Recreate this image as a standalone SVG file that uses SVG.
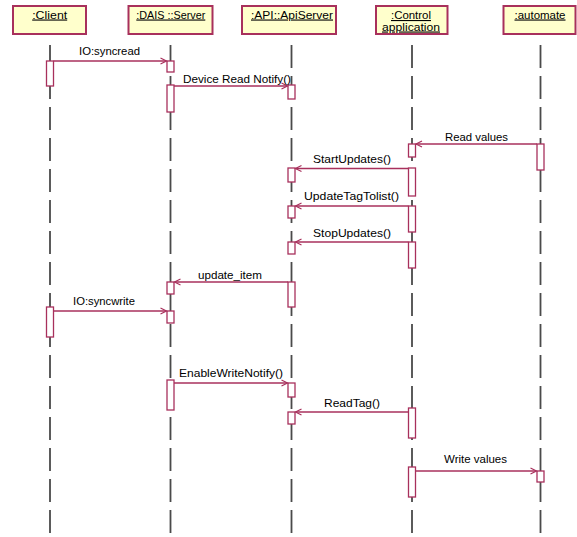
<svg xmlns="http://www.w3.org/2000/svg" width="577" height="537" viewBox="0 0 577 537">
<defs>
<marker id="arr" markerUnits="userSpaceOnUse" markerWidth="10" markerHeight="10" refX="7" refY="4" orient="auto">
<path d="M1,1 L7,4 L1,7" fill="none" stroke="#A8305C" stroke-width="1.2"/>
</marker>
</defs>
<style>
.box{fill:#FFFFCC;stroke:#A8305C;stroke-width:2}
.life{stroke:#4a4a4a;stroke-width:1.8;stroke-dasharray:23 8;fill:none}
.act{fill:#ffffff;stroke:#A8305C;stroke-width:1.3}
.msg{stroke:#A8305C;stroke-width:1.3;fill:none;marker-end:url(#arr)}
text{font-family:"Liberation Sans",Arial,sans-serif;font-size:11px;fill:#000}
.nm{text-anchor:middle;text-decoration:underline}
</style>
<rect width="577" height="537" fill="#ffffff"/>
<g id="lifelines">
<line class="life" x1="50" y1="45" x2="50" y2="533"/>
<line class="life" x1="170.5" y1="45" x2="170.5" y2="533"/>
<line class="life" x1="291.5" y1="45" x2="291.5" y2="533"/>
<line class="life" x1="412" y1="45" x2="412" y2="533"/>
<line class="life" x1="540.5" y1="45" x2="540.5" y2="533"/>
</g>
<g id="client">
<rect class="box" x="13" y="6" width="73" height="28"/>
<text class="nm" x="49.7" y="18.5" textLength="35" lengthAdjust="spacingAndGlyphs">:Client</text>
<rect class="act" x="46.5" y="61" width="7" height="25"/>
<rect class="act" x="46.5" y="307" width="7" height="30"/>
</g>
<g id="dais">
<rect class="box" x="128.5" y="6" width="84" height="28"/>
<text class="nm" x="170.8" y="18.5" textLength="69" lengthAdjust="spacingAndGlyphs">:DAIS ::Server</text>
<rect class="act" x="167" y="61" width="7" height="11"/>
<rect class="act" x="167" y="85" width="7" height="27"/>
<rect class="act" x="167" y="282" width="7" height="12"/>
<rect class="act" x="167" y="311" width="7" height="12"/>
<rect class="act" x="167" y="380" width="7" height="30"/>
</g>
<g id="apiserver">
<rect class="box" x="242" y="6" width="94" height="28"/>
<text class="nm" x="292" y="18.5" textLength="82" lengthAdjust="spacingAndGlyphs">:API::ApiServer</text>
<rect class="act" x="288" y="85" width="7" height="14"/>
<rect class="act" x="288" y="168" width="7" height="14"/>
<rect class="act" x="288" y="206" width="7" height="12"/>
<rect class="act" x="288" y="242" width="7" height="12"/>
<rect class="act" x="288" y="282" width="7" height="25"/>
<rect class="act" x="288" y="383" width="7" height="14"/>
<rect class="act" x="288" y="412" width="7" height="12"/>
</g>
<g id="control">
<rect class="box" x="376" y="6" width="71.5" height="28"/>
<text class="nm" x="411" y="19" textLength="40" lengthAdjust="spacingAndGlyphs">:Control</text>
<text class="nm" x="411" y="30.5" textLength="58" lengthAdjust="spacingAndGlyphs">application</text>
<rect class="act" x="408.5" y="144" width="7" height="13"/>
<rect class="act" x="408.5" y="168" width="7" height="28"/>
<rect class="act" x="408.5" y="206" width="7" height="26"/>
<rect class="act" x="408.5" y="242" width="7" height="26"/>
<rect class="act" x="408.5" y="408" width="7" height="30"/>
<rect class="act" x="408.5" y="467" width="7" height="30"/>
</g>
<g id="automate">
<rect class="box" x="503.5" y="6" width="72" height="28"/>
<text class="nm" x="540" y="18.5" textLength="51" lengthAdjust="spacingAndGlyphs">:automate</text>
<rect class="act" x="537" y="144" width="7" height="26"/>
<rect class="act" x="537" y="471" width="7" height="11"/>
</g>
<g id="connectors">
<line class="msg" x1="53.5" y1="61" x2="166.5" y2="61"/>
<text x="79" y="55" textLength="61" lengthAdjust="spacingAndGlyphs">IO:syncread</text>
<line class="msg" x1="174" y1="86" x2="287.5" y2="86"/>
<text x="183" y="83" textLength="108" lengthAdjust="spacingAndGlyphs">Device Read Notify()</text>
<line class="msg" x1="537" y1="144" x2="416" y2="144"/>
<text x="445" y="141" textLength="63" lengthAdjust="spacingAndGlyphs">Read values</text>
<line class="msg" x1="408.5" y1="168.5" x2="295.5" y2="168.5"/>
<text x="313" y="163" textLength="78" lengthAdjust="spacingAndGlyphs">StartUpdates()</text>
<line class="msg" x1="408.5" y1="206" x2="295.5" y2="206"/>
<text x="304" y="200" textLength="95" lengthAdjust="spacingAndGlyphs">UpdateTagTolist()</text>
<line class="msg" x1="408.5" y1="242" x2="295.5" y2="242"/>
<text x="313" y="237" textLength="78" lengthAdjust="spacingAndGlyphs">StopUpdates()</text>
<line class="msg" x1="288" y1="282" x2="174.5" y2="282"/>
<text x="198" y="279" textLength="64" lengthAdjust="spacingAndGlyphs">update_item</text>
<line class="msg" x1="53.5" y1="311" x2="166.5" y2="311"/>
<text x="73" y="305" textLength="62" lengthAdjust="spacingAndGlyphs">IO:syncwrite</text>
<line class="msg" x1="174" y1="383" x2="287.5" y2="383"/>
<text x="179" y="377" textLength="104" lengthAdjust="spacingAndGlyphs">EnableWriteNotify()</text>
<line class="msg" x1="408.5" y1="412" x2="295.5" y2="412"/>
<text x="324" y="407" textLength="56" lengthAdjust="spacingAndGlyphs">ReadTag()</text>
<line class="msg" x1="415.5" y1="471" x2="536.5" y2="471"/>
<text x="444" y="463" textLength="63" lengthAdjust="spacingAndGlyphs">Write values</text>
</g>
</svg>
